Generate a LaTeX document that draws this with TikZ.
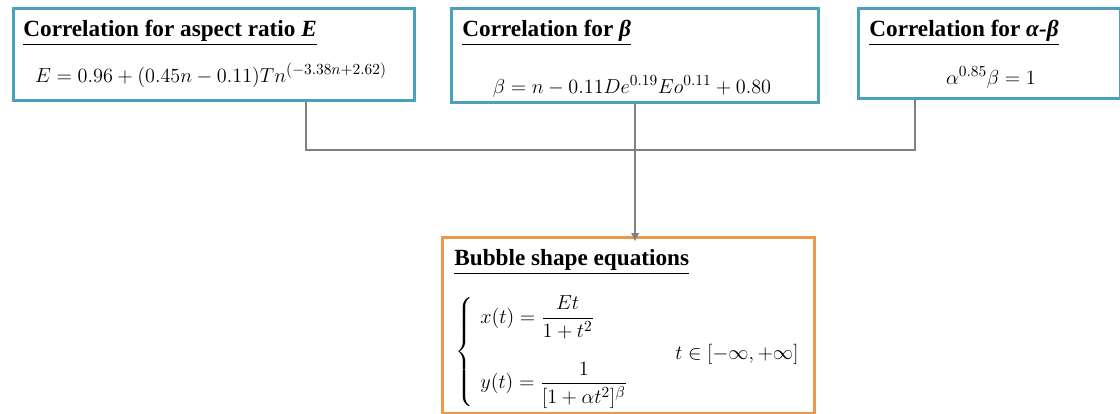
\documentclass[tikz,border=0pt]{standalone}
\usepackage{amsmath}
\usepackage{fontspec}
\setmainfont{Liberation Serif}
\usetikzlibrary{arrows.meta}

\definecolor{boxblue}{RGB}{75,160,190}
\definecolor{boxorange}{RGB}{240,150,75}
\definecolor{linkgray}{RGB}{128,128,128}

\begin{document}
\begin{tikzpicture}[x=0.025cm, y=-0.025cm, line width=2pt,
	corrbox/.style={draw=boxblue, fill=white, anchor=north west, inner sep=0pt},
	shapebox/.style={draw=boxorange, fill=white, anchor=north west, inner sep=0pt},
	boxtitle/.style={anchor=base west, inner sep=0pt, font=\fontsize{16.5}{19}\selectfont\bfseries},
	boxeq/.style={inner sep=0pt, font=\fontsize{15.5}{18}\selectfont},
	link/.style={draw=linkgray, line width=2pt}]
	\useasboundingbox (0,0) rectangle (1120,414);
	% correlation boxes
	\node[corrbox, minimum width=10.03cm, minimum height=2.3cm] (corrE) at (12,7) {};
	\node[corrbox, minimum width=9.18cm, minimum height=2.35cm] (corrB) at (450,7) {};
	\node[corrbox, minimum width=6.55cm, minimum height=2.25cm] (corrAB) at (857,7) {};
	\node[boxtitle] (ttlE) at (22,36) {\underline{Correlation for aspect ratio \textit{E}}};
	\node[boxtitle] (ttlB) at (461,36) {\underline{Correlation for \textit{β}}};
	\node[boxtitle] (ttlAB) at (868,36) {\underline{Correlation for \textit{α-β}}};
	\node[boxeq, anchor=base] (eqE) at (211,82) {$E = 0.96 + (0.45n - 0.11)Tn^{(-3.38n+2.62)}$};
	\node[boxeq, anchor=base] (eqB) at (632,93) {$\beta = n - 0.11De^{0.19}Eo^{0.11} + 0.80$};
	\node[boxeq, anchor=base] (eqAB) at (991,84) {$\alpha^{0.85}\beta = 1$};
	% bubble shape box
	\node[shapebox, minimum width=9.3cm, minimum height=4.4cm] (shape) at (441,236) {};
	\node[boxtitle] (ttlS) at (453,265) {\underline{Bubble shape equations}};
	\node[boxeq, anchor=west] (eqS) at (454,352) {$\left\{\begin{array}{l}
		x(t) = \dfrac{Et}{1+t^2}\\[22pt]
		y(t) = \dfrac{1}{[1+\alpha t^2]^{\beta}}
		\end{array}\right.$};
	\node[boxeq] (range) at (737,354) {$t \in [-\infty, +\infty]$};
	% connectors
	\coordinate (joinL) at (306,150);
	\coordinate (joinR) at (915,150);
	\draw[link] (corrE.south -| joinL) -- (joinL) -- (joinR) -- (corrAB.south -| joinR);
	\draw[link, -{Latex[length=6pt, width=6pt]}] (corrB.south) -- ([yshift=-4pt]corrB.south |- shape.north);
\end{tikzpicture}
\end{document}
